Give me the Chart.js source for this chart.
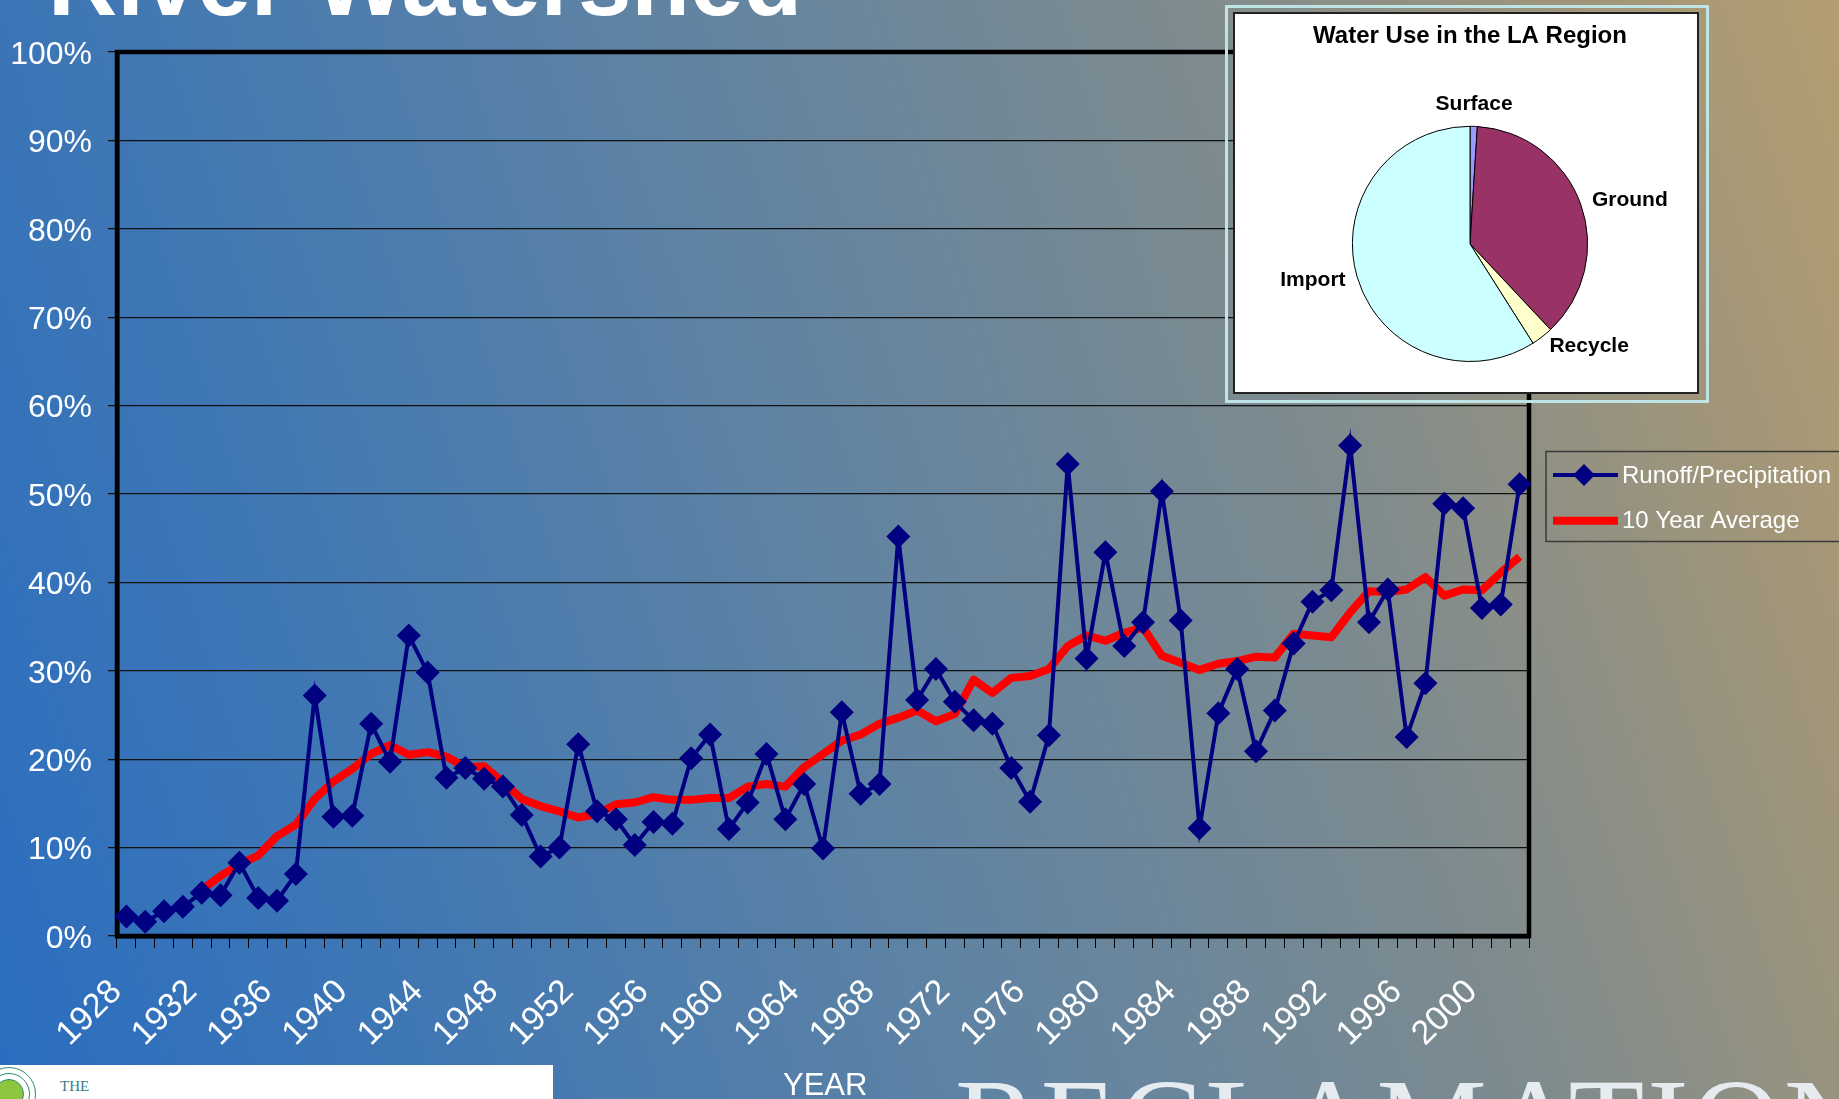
<!DOCTYPE html>
<html>
<head>
<meta charset="utf-8">
<title>Runoff / Precipitation</title>
<script src="https://cdn.jsdelivr.net/npm/chart.js@4.4.0/dist/chart.umd.min.js"></script>
<style>
  html, body { margin: 0; padding: 0; }
  body {
    width: 1839px; height: 1099px; overflow: hidden; position: relative;
    background: linear-gradient(72deg, #2a6dc0 0%, #3f77b4 20%, #5f83a3 45%, #7e8b8e 70%, #a0957a 88%, #b49e70 100%);
    font-family: 'Liberation Sans', Arial, sans-serif;
  }
  #title {
    position: absolute; left: 48px; top: -66px;
    font-size: 96px; line-height: 96px; font-weight: bold; color: #fff; white-space: nowrap;
  }
  #main { position: absolute; left: 0; top: 0; }
  #pieFrame {
    position: absolute; left: 1225px; top: 5px; width: 478px; height: 392px;
    border: 3px solid #bfe4e6;
  }
  #pieBox {
    position: absolute; left: 5px; top: 4px; width: 462px; height: 378px;
    background: #fff; border: 2px solid #222;
  }
  #pieBox canvas { position: absolute; left: 0; top: 0; }
  #logo {
    position: absolute; left: 0; top: 1065px; width: 553px; height: 34px;
    background: #fff; overflow: hidden;
  }
  #logo .ring {
    position: absolute; border-radius: 50%; border: 1px solid #2f8a7a;
  }
  #logo .the {
    position: absolute; left: 60px; top: 13px; font-family: 'Liberation Serif', serif;
    font-size: 15px; color: #3a7a8a;
  }
  #year {
    position: absolute; left: 783px; top: 1067px; font-size: 31px; color: #fff;
  }
  #recl {
    position: absolute; left: 955px; top: 1062px; font-family: 'Liberation Serif', serif;
    font-size: 124px; line-height: 124px; color: #e6ebf0; letter-spacing: 3px; white-space: nowrap;
  }
</style>
</head>
<body>
<div id="title">River Watershed</div>
<canvas id="main" width="1839" height="1099"></canvas>
<div id="pieFrame"><div id="pieBox"><canvas id="pie" width="462" height="378"></canvas></div></div>
<div id="logo">
  <div class="ring" style="left:-18px;top:2px;width:52px;height:52px;"></div>
  <div class="ring" style="left:-12px;top:8px;width:40px;height:40px;"></div>
  <div class="ring" style="left:-6px;top:14px;width:28px;height:28px;background:#8cc63f;"></div>
  <div class="the">THE</div>
</div>
<div id="year">YEAR</div>
<div id="recl">RECLAMATION</div>
<script>
Chart.defaults.font.family = "'Liberation Sans', Arial, sans-serif";

const years = ['1928','1929','1930','1931','1932','1933','1934','1935','1936','1937',
  '1938','1939','1940','1941','1942','1943','1944','1945','1946','1947',
  '1948','1949','1950','1951','1952','1953','1954','1955','1956','1957',
  '1958','1959','1960','1961','1962','1963','1964','1965','1966','1967',
  '1968','1969','1970','1971','1972','1973','1974','1975','1976','1977',
  '1978','1979','1980','1981','1982','1983','1984','1985','1986','1987',
  '1988','1989','1990','1991','1992','1993','1994','1995','1996','1997',
  '1998','1999','2000','2001','2002']

const tickYears = ['1928','1932','1936','1940','1944','1948','1952','1956','1960',
  '1964','1968','1972','1976','1980','1984','1988','1992','1996','2000']

// runoff / precipitation, percent
const runoff = [2.2, 1.6, 2.8, 3.3, 4.9, 4.6, 8.3, 4.3, 4.0, 7.0,
  27.2, 13.5, 13.6, 24.0, 19.7, 34.0, 29.8, 17.9, 19.0, 17.8,
  16.9, 13.7, 9.0, 10.0, 21.7, 14.1, 13.2, 10.3, 12.9, 12.7,
  20.1, 22.8, 12.1, 15.1, 20.6, 13.2, 17.2, 9.9, 25.3, 16.1,
  17.2, 45.2, 26.7, 30.2, 26.5, 24.4, 24.0, 19.0, 15.2, 22.7,
  53.4, 31.4, 43.4, 32.8, 35.5, 50.3, 35.7, 12.2, 25.2, 30.2,
  20.9, 25.5, 33.1, 37.8, 39.1, 55.5, 35.5, 39.2, 22.5, 28.6,
  48.9, 48.4, 37.1, 37.5, 51.1]

// 10 year average, percent (starts in 1932)
const tenYear = [null, null, null, null, 5.2, 6.8, 8.1, 9.1, 11.3, 12.6,
  15.5, 17.5, 18.9, 20.6, 21.6, 20.5, 20.8, 20.3, 19.1, 19.2,
  17.4, 15.5, 14.7, 14.1, 13.4, 13.8, 14.9, 15.1, 15.7, 15.4,
  15.4, 15.6, 15.6, 16.9, 17.2, 16.9, 19.1, 20.6, 22.1, 22.8,
  24.0, 24.7, 25.5, 24.3, 25.1, 29.0, 27.5, 29.2, 29.4, 30.2,
  32.8, 34.0, 33.4, 34.3, 34.9, 31.7, 30.9, 30.1, 30.8, 31.1,
  31.6, 31.5, 34.2, 34.0, 33.8, 36.6, 39.0, 38.9, 39.2, 40.6,
  38.5, 39.2, 39.1, 41.1, 42.9]

const useLabels = ['Surface', 'Ground', 'Recycle', 'Import']
const useShare = [1, 37, 3, 59]
const useColors = ['#9999ff', '#993366', '#ffffcc', '#ccffff']

// thick black frame round the plot
const frame = {
  id: 'frame',
  beforeDatasetsDraw(chart) {
    const {ctx, chartArea: a} = chart
    ctx.save()
    ctx.strokeStyle = '#000'
    ctx.lineWidth = 4.5
    ctx.strokeRect(a.left, a.top, a.right - a.left, a.bottom - a.top)
    ctx.restore()
  }
}

// boxed legend to the right of the plot, partly off the page like the slide
const boxLegend = {
  id: 'boxLegend',
  afterDraw(chart) {
    const {ctx, chartArea: a} = chart
    const left = a.right + 17
    const top = (a.top + a.bottom) / 2 - 42.5
    ctx.save()
    ctx.strokeStyle = '#3a3a3a'
    ctx.lineWidth = 1.5
    ctx.strokeRect(left, top, chart.width - left + 10, 90)
    chart.data.datasets.forEach((ds, i) => {
      const y = top + 23.5 + i * 45.7
      ctx.strokeStyle = ds.borderColor
      ctx.lineWidth = ds.borderWidth
      ctx.beginPath()
      ctx.moveTo(left + 7, y)
      ctx.lineTo(left + 72, y)
      ctx.stroke()
      if (ds.pointRadius) {
        const r = 11, x = left + 38
        ctx.fillStyle = ds.pointBackgroundColor
        ctx.beginPath()
        ctx.moveTo(x, y - r); ctx.lineTo(x + r, y); ctx.lineTo(x, y + r); ctx.lineTo(x - r, y)
        ctx.closePath()
        ctx.fill()
      }
      ctx.fillStyle = '#fff'
      ctx.font = "24px 'Liberation Sans', Arial, sans-serif"
      ctx.textAlign = 'left'
      ctx.textBaseline = 'middle'
      ctx.fillText(ds.label, left + 76, y + 1)
    })
    ctx.restore()
  }
}

new Chart(document.getElementById('main'), {
  type: 'line',
  data: {
    labels: years,
    datasets: [{
      label: 'Runoff/Precipitation',
      data: runoff,
      borderColor: '#000080',
      borderWidth: 4,
      pointStyle: 'rectRot',
      pointRadius: 12,
      pointBackgroundColor: '#000080',
      pointBorderWidth: 0,
      tension: 0
    }, {
      label: '10 Year Average',
      data: tenYear,
      borderColor: '#ff0000',
      borderWidth: 8,
      pointRadius: 0,
      borderJoinStyle: 'round',
      tension: 0
    }]
  },
  options: {
    responsive: false,
    animation: false,
    devicePixelRatio: 1,
    layout: { padding: { left: 0, top: 52, right: 310, bottom: 0 } },
    plugins: { legend: { display: false }, tooltip: { enabled: false } },
    scales: {
      x: {
        offset: true,
        afterFit(scale) { scale.height = 163 },
        grid: { offset: true, drawOnChartArea: false, color: '#000', tickLength: 12, lineWidth: 1 },
        border: { display: true, color: '#000', width: 4.5 },
        ticks: {
          autoSkip: false, minRotation: 45, maxRotation: 45, padding: 24, labelOffset: -10,
          color: '#fff', font: { size: 34 },
          callback(v, i) { return tickYears.includes(years[i]) ? years[i] : '' }
        }
      },
      y: {
        min: 0, max: 100,
        afterFit(scale) { scale.width = 117 },
        grid: { color: '#111', lineWidth: 1.3, tickLength: 9 },
        border: { display: true, color: '#000', width: 4.5 },
        ticks: {
          stepSize: 10, padding: 16, labelOffset: 3, color: '#fff', font: { size: 32 },
          callback: v => v + '%'
        }
      }
    }
  },
  plugins: [frame, boxLegend]
})

// slice names placed outside the pie
const pieLabels = {
  id: 'pieLabels',
  afterDatasetsDraw(chart) {
    const {ctx} = chart
    const meta = chart.getDatasetMeta(0)
    ctx.save()
    ctx.font = "bold 21px 'Liberation Sans', Arial, sans-serif"
    ctx.fillStyle = '#000'
    meta.data.forEach((arc, i) => {
      const mid = (arc.startAngle + arc.endAngle) / 2
      const dx = Math.cos(mid), dy = Math.sin(mid)
      const r = arc.outerRadius + 12
      ctx.textAlign = dx > 0.3 ? 'left' : dx < -0.3 ? 'right' : 'center'
      ctx.textBaseline = dy < -0.9 ? 'bottom' : dy > 0.9 ? 'top' : 'middle'
      ctx.fillText(chart.data.labels[i], arc.x + dx * r, arc.y + dy * r)
    })
    ctx.restore()
  }
}

new Chart(document.getElementById('pie'), {
  type: 'pie',
  data: {
    labels: useLabels,
    datasets: [{
      data: useShare,
      backgroundColor: useColors,
      borderColor: '#000',
      borderWidth: 1
    }]
  },
  options: {
    responsive: false,
    animation: false,
    devicePixelRatio: 1,
    layout: { padding: { left: 8, right: 0, top: 0, bottom: 30 } },
    plugins: {
      legend: { display: false },
      tooltip: { enabled: false },
      title: {
        display: true,
        text: 'Water Use in the LA Region',
        color: '#000',
        font: { size: 24, weight: 'bold' },
        padding: { top: 8, bottom: 75 }
      }
    }
  },
  plugins: [pieLabels]
})
</script>
</body>
</html>
